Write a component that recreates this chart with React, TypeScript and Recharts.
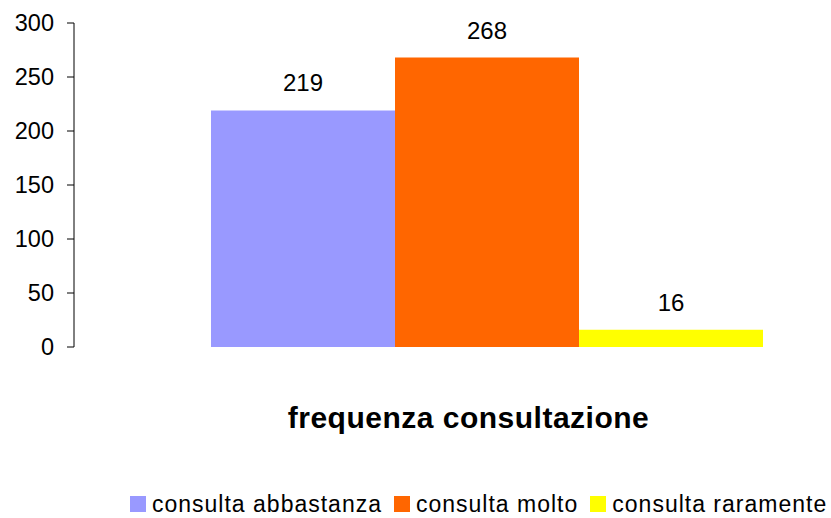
import React from 'react';
import { BarChart, Bar, XAxis, YAxis, Legend, LabelList } from 'recharts';

const category = 'frequenza consultazione';
const seriesNames = ['consulta abbastanza', 'consulta molto', 'consulta raramente'];
const seriesValues = [219, 268, 16];
const seriesColors = ['#9999FF', '#FF6600', '#FFFF00'];
const yTicks = [0, 50, 100, 150, 200, 250, 300];

const FONT = '"Liberation Sans", Arial, sans-serif';

const data = [
  seriesNames.reduce((row: any, name, i) => {
    row[name] = seriesValues[i];
    return row;
  }, { name: category }),
];

const renderLegend = () => (
  <div style={{ display: 'flex', alignItems: 'center', height: 18, lineHeight: '18px', fontFamily: FONT, fontSize: 23, letterSpacing: 1, color: '#000', whiteSpace: 'nowrap' }}>
    {seriesNames.map((name, i) => (
      <div key={name} style={{ display: 'flex', alignItems: 'center', marginRight: 12 }}>
        <span style={{ display: 'inline-block', width: 16, height: 16, background: seriesColors[i], marginRight: 6 }} />
        <span>{name}</span>
      </div>
    ))}
  </div>
);

export default function App() {
  return (
    <div style={{ position: 'absolute', left: 0, top: 0, width: 831, height: 518, background: '#fff', overflow: 'hidden' }}>
      <BarChart
        width={831}
        height={518}
        data={data}
        margin={{ top: 23, right: 0, left: 0, bottom: 0 }}
        barCategoryGap={69}
        barGap={0}
      >
        <XAxis
          dataKey="name"
          tick={false}
          axisLine={false}
          tickLine={false}
          height={153}
          padding={{ left: 68, right: 0 }}
          label={{
            value: category,
            position: 'insideTop',
            offset: 60,
            dx: 16,
            style: { fontFamily: FONT, fontSize: 30, fontWeight: 'bold', letterSpacing: 0.5, fill: '#000' },
          }}
        />
        <YAxis
          width={74}
          domain={[0, 300]}
          ticks={yTicks}
          interval={0}
          axisLine={{ stroke: '#000' }}
          tickLine={{ stroke: '#000' }}
          tickSize={7}
          tickMargin={13}
          tick={{ fill: '#000', fontSize: 23.5, fontFamily: FONT }}
        />
        <Legend
          content={renderLegend}
          wrapperStyle={{ left: 130, top: 495, width: 700, height: 18 }}
        />
        {seriesNames.map((name, i) => (
          <Bar key={name} dataKey={name} fill={seriesColors[i]} isAnimationActive={false}>
            <LabelList
              dataKey={name}
              position="top"
              offset={19}
              style={{ fill: '#000', fontSize: 24, fontFamily: FONT }}
            />
          </Bar>
        ))}
      </BarChart>
    </div>
  );
}
